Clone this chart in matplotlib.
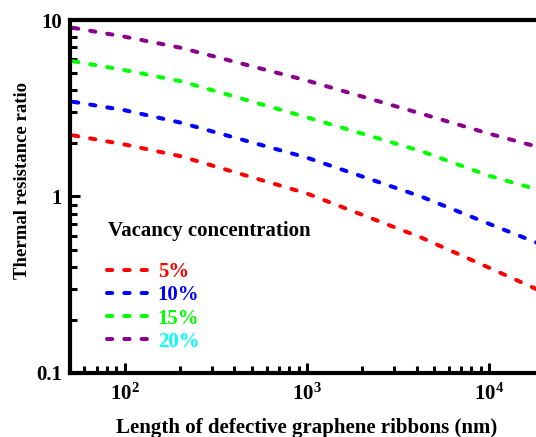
import matplotlib
matplotlib.use("Agg")
import matplotlib.pyplot as plt
from matplotlib.lines import Line2D

plt.rcParams['font.family'] = 'Liberation Serif'
plt.rcParams['font.weight'] = 'bold'
plt.rcParams['mathtext.fontset'] = 'custom'
plt.rcParams['mathtext.rm'] = 'Liberation Serif:bold'
plt.rcParams['mathtext.it'] = 'Liberation Serif:bold'

# ribbon length (nm) and thermal resistance ratio
length = [52, 100, 203, 1000, 4230, 10000, 20000]
r5 = [2.22, 1.97, 1.69, 1.04, 0.586, 0.395, 0.286]
r10 = [3.44, 3.08, 2.62, 1.66, 1.00, 0.70, 0.528]
r15 = [5.84, 5.20, 4.50, 2.81, 1.81, 1.31, 1.07]
r20 = [9.03, 8.04, 6.96, 4.54, 2.95, 2.27, 1.87]

labels = ["5%", "10%", "15%", "20%"]
colors = ["#ff0000", "#0000ff", "#00ff00", "#8b008b"]
text_colors = ["#ff0000", "#0000ff", "#00ff00", "#00ffff"]

fig = plt.figure(figsize=(5.36, 4.37), dpi=100)
ax = fig.add_axes([0.1306, 0.1465, 0.884, 0.8077])

dash = (1.3, 3.0)
for y, c, lab in zip([r5, r10, r15, r20], colors, labels):
    ax.plot(length, y, color=c, lw=2.9, dashes=dash,
            dash_capstyle='round', label=lab)

ax.set_xscale('log')
ax.set_yscale('log')
ax.set_xlim(50, 20000)
ax.set_ylim(0.1, 10)

for s in ['left', 'bottom', 'top']:
    ax.spines[s].set_linewidth(3)
ax.spines['right'].set_visible(False)

ax.tick_params(which='both', direction='in', top=False, right=False, width=2.2)
ax.tick_params(which='major', length=7, labelsize=15, pad=6)
ax.tick_params(which='minor', length=5)
ax.set_yticks([0.1, 1, 10])
ax.set_yticklabels(["0.1", "1", "10"])
ax.set_xticks([100, 1000, 10000])
ax.set_xticklabels([r"$10^{2}$", r"$10^{3}$", r"$10^{4}$"])
ax.tick_params(axis='x', which='major', pad=8)

ax.set_xlabel("Length of defective graphene ribbons (nm)", fontsize=15,
              fontweight='bold', labelpad=9)
ax.set_ylabel("Thermal resistance ratio", fontsize=13.5, fontweight='bold')
ax.yaxis.set_label_coords(-0.083, 0.544)

# legend title drawn separately, it sits well above the entries
ax.text(0.08, 0.402, "Vacancy concentration", transform=ax.transAxes,
        fontsize=15, fontweight='bold', va='center', ha='left')

handles = [Line2D([], [], color=c, lw=2.9, dashes=dash,
                  dash_capstyle='round') for c in colors]
leg = ax.legend(handles, labels, loc='upper left', bbox_to_anchor=(0.06, 0.337),
                borderaxespad=0, frameon=False, fontsize=15,
                handlelength=2.15, handletextpad=0.3, labelspacing=0.15)
for t, c in zip(leg.get_texts(), text_colors):
    t.set_color(c)

fig.savefig("out.png", dpi=100)
